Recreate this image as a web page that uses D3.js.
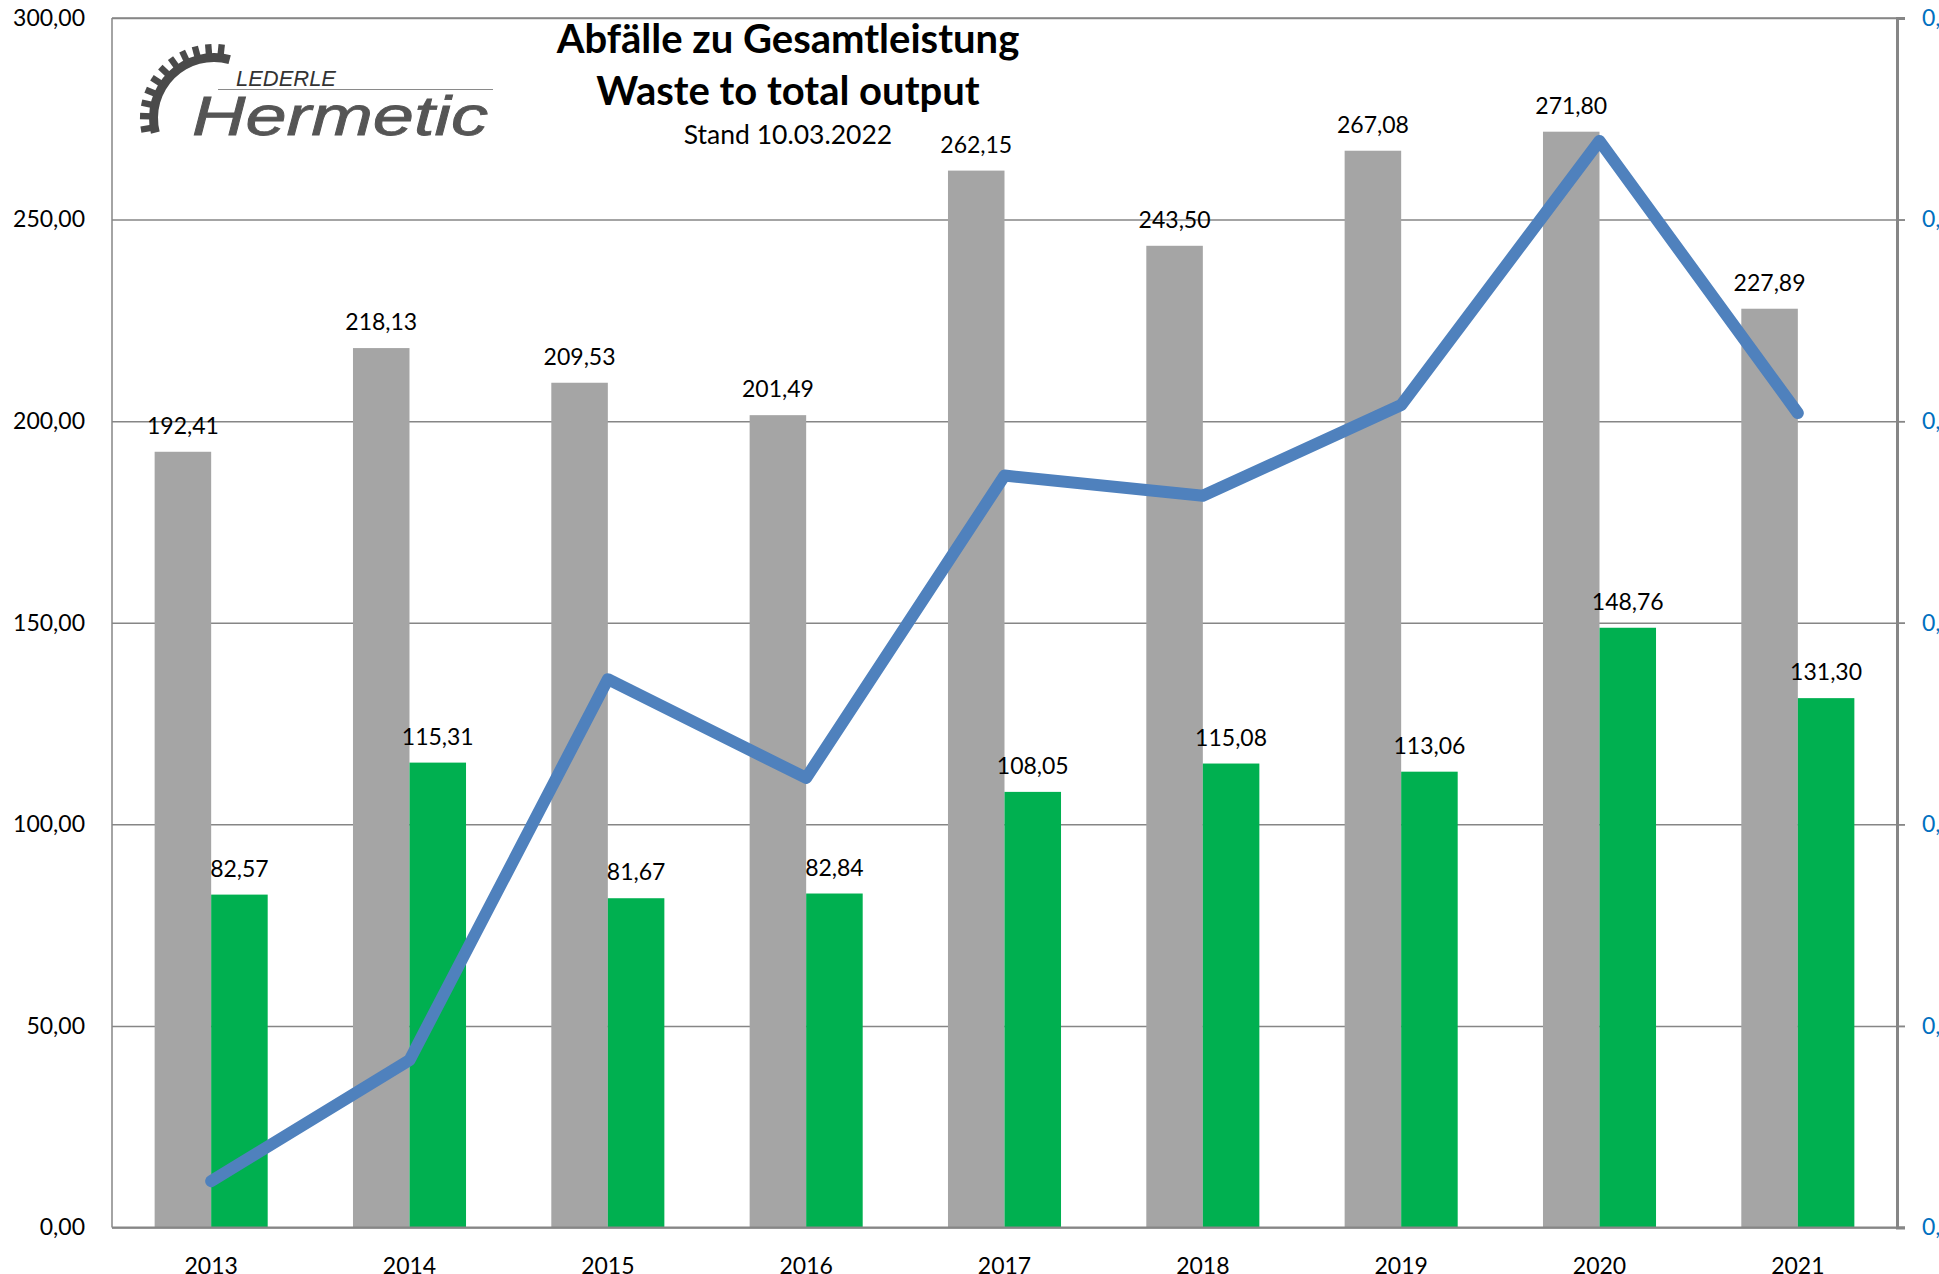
<!DOCTYPE html>
<html>
<head>
<meta charset="utf-8">
<script src="https://cdn.jsdelivr.net/npm/d3@7"></script>
<style>
  body { margin: 0; background: #fff; }
  svg { display: block; font-family: Lato, "Open Sans", sans-serif; }
</style>
</head>
<body>
<div id="chart"></div>
<script>
// values
var years = ["2013", "2014", "2015", "2016", "2017", "2018", "2019", "2020", "2021"];
var gesamtleistung = [192.41, 218.13, 209.53, 201.49, 262.15, 243.50, 267.08, 271.80, 227.89];
var abfaelle = [82.57, 115.31, 81.67, 82.84, 108.05, 115.08, 113.06, 148.76, 131.30];
// line on the right axis (only the first digit of its labels is visible)
var verhaeltnis = [0.023, 0.083, 0.272, 0.223, 0.373, 0.363, 0.408, 0.539, 0.404];
var leftTicks = [0, 50, 100, 150, 200, 250, 300];
var rightTicks = [0, 0.1, 0.2, 0.3, 0.4, 0.5, 0.6];
var titleLines = ["Abfälle zu Gesamtleistung", "Waste to total output"];
var standText = "Stand 10.03.2022";

var width = 1939, height = 1274;
// note: "top" is taken by window.top, so use own names
var pLeft = 112, pRight = 1897, pTop = 18, pBottom = 1227.5;

var fmt = function (v) { return v.toFixed(2).replace(".", ","); };

var svg = d3.select("#chart").append("svg")
  .attr("width", width)
  .attr("height", height);

svg.append("rect").attr("width", width).attr("height", height).attr("fill", "#fff");

var y = d3.scaleLinear().domain([0, 300]).range([pBottom, pTop]);
var yR = d3.scaleLinear().domain([0, 0.6]).range([pBottom, pTop]);

var x0 = d3.scaleBand()
  .domain(years)
  .range([pLeft, pRight])
  .paddingInner(0.43)
  .paddingOuter(0.215);
var x1 = d3.scaleBand()
  .domain(["gesamt", "abfall"])
  .range([0, x0.bandwidth()]);

// grid + left axis
var gy = svg.append("g")
  .attr("transform", "translate(" + pLeft + ",0)")
  .call(d3.axisLeft(y).tickValues(leftTicks).tickSize(-(1905 - pLeft)).tickPadding(27).tickFormat(fmt));
gy.select(".domain").remove();
gy.selectAll(".tick line").attr("stroke", "#868686").attr("stroke-width", 1.5);
gy.selectAll(".tick text").attr("font-size", 23).attr("fill", "#000").attr("font-family", "Lato");

// frame
svg.append("line").attr("x1", pLeft).attr("x2", pRight).attr("y1", pTop).attr("y2", pTop)
  .attr("stroke", "#868686").attr("stroke-width", 1.5);
svg.append("line").attr("x1", pLeft).attr("x2", pLeft).attr("y1", pTop).attr("y2", pBottom)
  .attr("stroke", "#868686").attr("stroke-width", 1.5);

// bars
var rows = years.map(function (yr, i) {
  return { year: yr, gesamt: gesamtleistung[i], abfall: abfaelle[i] };
});

var groups = svg.append("g").selectAll("g")
  .data(rows)
  .enter().append("g")
  .attr("transform", function (d) { return "translate(" + x0(d.year) + ",0)"; });

groups.append("rect")
  .attr("x", x1("gesamt"))
  .attr("width", x1.bandwidth())
  .attr("y", function (d) { return y(d.gesamt); })
  .attr("height", function (d) { return pBottom - y(d.gesamt); })
  .attr("fill", "#a5a5a5");

groups.append("rect")
  .attr("x", x1("abfall"))
  .attr("width", x1.bandwidth())
  .attr("y", function (d) { return y(d.abfall); })
  .attr("height", function (d) { return pBottom - y(d.abfall); })
  .attr("fill", "#00b050");

groups.append("text")
  .attr("x", x1("gesamt") + x1.bandwidth() / 2)
  .attr("y", function (d) { return y(d.gesamt) - 18; })
  .attr("text-anchor", "middle")
  .attr("font-size", 23)
  .text(function (d) { return fmt(d.gesamt); });

groups.append("text")
  .attr("x", x1("abfall") + x1.bandwidth() / 2)
  .attr("y", function (d) { return y(d.abfall) - 18; })
  .attr("text-anchor", "middle")
  .attr("font-size", 23)
  .text(function (d) { return fmt(d.abfall); });

// right axis (labels run off the picture's edge, as in the original)
var gr = svg.append("g")
  .attr("transform", "translate(" + pRight + ",0)")
  .call(d3.axisRight(yR).tickValues(rightTicks).tickSize(8).tickPadding(17).tickFormat(fmt));
gr.select(".domain").attr("stroke", "#868686").attr("stroke-width", 3);
gr.selectAll(".tick line").attr("stroke", "#868686").attr("stroke-width", 1.5);
gr.selectAll(".tick text").attr("font-size", 23).attr("fill", "#0070c0").attr("font-family", "Lato");

// bottom axis
var gx = svg.append("g")
  .attr("transform", "translate(0," + pBottom + ")")
  .call(d3.axisBottom(x0).tickSize(0));
gx.select(".domain").attr("d", "M" + pLeft + ",0H1905").attr("stroke", "#868686").attr("stroke-width", 2);
gx.selectAll(".tick text")
  .attr("font-size", 23)
  .attr("fill", "#000")
  .attr("font-family", "Lato")
  .attr("dy", null)
  .attr("y", 46);

// line
var line = d3.line()
  .x(function (d, i) { return x0(years[i]) + x0.bandwidth() / 2; })
  .y(function (d) { return yR(d); });

svg.append("path")
  .datum(verhaeltnis)
  .attr("d", line)
  .attr("fill", "none")
  .attr("stroke", "#4f81bd")
  .attr("stroke-width", 12)
  .attr("stroke-linecap", "round")
  .attr("stroke-linejoin", "round");

// title
var cx = 788;
svg.append("text").attr("x", cx).attr("y", 53).attr("text-anchor", "middle")
  .attr("font-size", 40).attr("font-weight", "bold").text(titleLines[0]);
svg.append("text").attr("x", cx).attr("y", 105).attr("text-anchor", "middle")
  .attr("font-size", 40).attr("font-weight", "bold").text(titleLines[1]);
svg.append("text").attr("x", cx).attr("y", 144).attr("text-anchor", "middle")
  .attr("font-size", 26.5).text(standText);

// logo
var logo = svg.append("g").attr("fill", "#4a4a4a");
var gc = [214, 118];
var a0 = -104 * Math.PI / 180, a1 = 15 * Math.PI / 180;
logo.append("path")
  .attr("transform", "translate(" + gc + ")")
  .attr("d", d3.arc()({ innerRadius: 56, outerRadius: 65, startAngle: a0, endAngle: a1 }));
var teeth = d3.range(-99, 15, 10.5);
logo.selectAll(".tooth")
  .data(teeth)
  .enter().append("rect")
  .attr("class", "tooth")
  .attr("x", -3.2).attr("y", -74)
  .attr("width", 6.4).attr("height", 12)
  .attr("transform", function (d) { return "translate(" + gc + ") rotate(" + d + ")"; });
logo.append("text")
  .attr("x", 236).attr("y", 86)
  .attr("font-family", "Liberation Sans").attr("font-style", "italic")
  .attr("font-size", 22).attr("textLength", 100).attr("lengthAdjust", "spacingAndGlyphs")
  .attr("fill", "#333")
  .text("LEDERLE");
logo.append("line")
  .attr("x1", 218).attr("x2", 493).attr("y1", 89.5).attr("y2", 89.5)
  .attr("stroke", "#8a8a8a").attr("stroke-width", 1.2);
logo.append("text")
  .attr("x", 192).attr("y", 135)
  .attr("font-family", "Liberation Sans").attr("font-style", "italic")
  .attr("font-size", 55).attr("textLength", 296).attr("lengthAdjust", "spacingAndGlyphs")
  .attr("fill", "#555").attr("stroke", "#555").attr("stroke-width", 0.8)
  .text("Hermetic");
</script>
</body>
</html>
